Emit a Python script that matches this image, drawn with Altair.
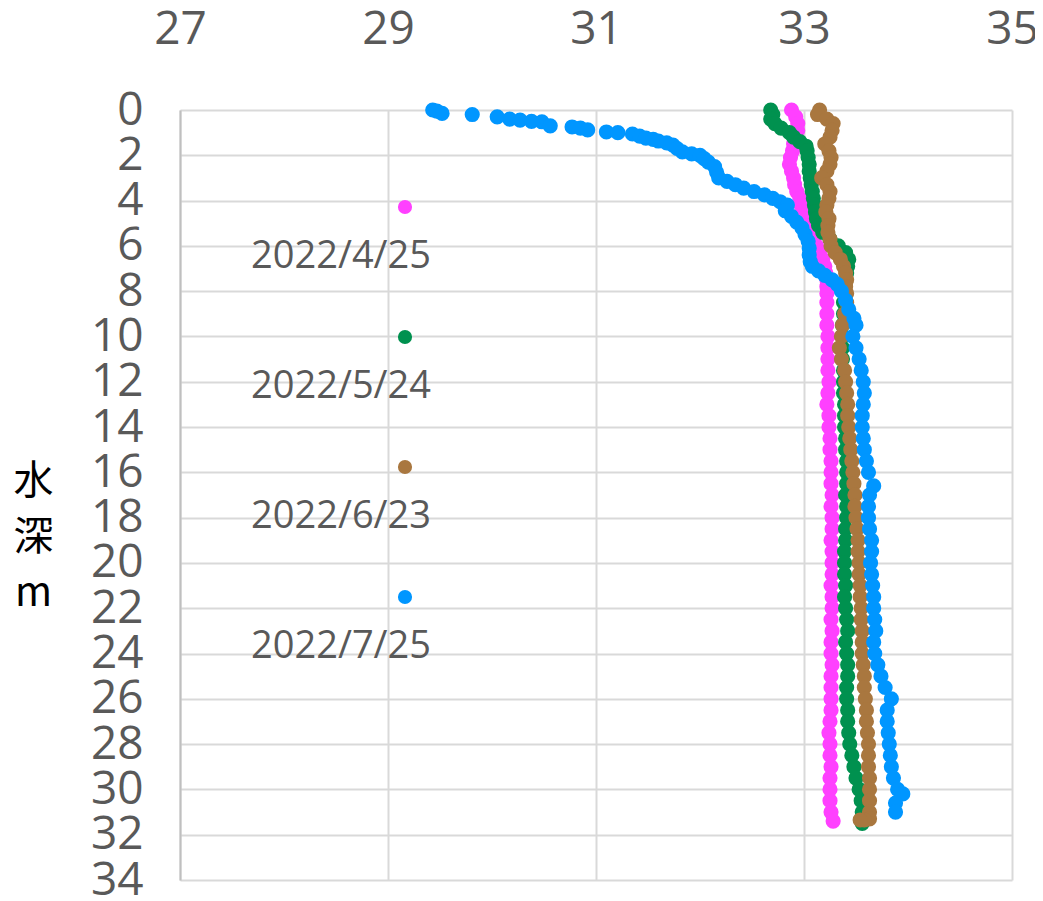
import altair as alt
import pandas as pd

SERIES = ["2022/4/25", "2022/5/24", "2022/6/23", "2022/7/25"]
COLORS = ["#FF40FF", "#00914F", "#A9773F", "#0096FF"]

X_TICKS = [27, 29, 31, 33, 35]
Y_TICKS = [0, 2, 4, 6, 8, 10, 12, 14, 16, 18, 20, 22, 24, 26, 28, 30, 32, 34]

# 2022/4/25 (pink)
apr_depth = [0.0, 0.3, 0.6, 0.9, 1.2, 1.5, 1.8, 2.1, 2.4, 2.7, 3.0, 3.3, 3.6, 3.9, 4.2, 4.5, 4.8,
             5.1, 5.4, 5.7, 6.0, 6.3, 6.6, 6.9, 7.2, 7.5, 7.8, 8.1, 8.5, 9.0, 9.5, 10.0, 10.5,
             11.0, 11.5, 12.0, 12.5, 13.0, 13.5, 14.0, 14.5, 15.0, 15.5, 16.0, 16.5, 17.0, 17.5,
             18.0, 18.5, 19.0, 19.5, 20.0, 20.5, 21.0, 21.5, 22.0, 22.5, 23.0, 23.5, 24.0, 24.5,
             25.0, 25.5, 26.0, 26.5, 27.0, 27.5, 28.0, 28.5, 29.0, 29.5, 30.0, 30.5, 31.0, 31.4]
apr_temp = [32.88, 32.92, 32.94, 32.94, 32.92, 32.90, 32.89, 32.87, 32.86, 32.88, 32.90, 32.91,
            32.93, 32.96, 32.97, 32.98, 32.99, 33.02, 33.06, 33.09, 33.12, 33.15, 33.18, 33.20,
            33.21, 33.22, 33.22, 33.22, 33.22, 33.22, 33.22, 33.23, 33.23, 33.23, 33.23, 33.24,
            33.23, 33.22, 33.24, 33.24, 33.25, 33.25, 33.26, 33.26, 33.26, 33.27, 33.26, 33.27,
            33.27, 33.26, 33.27, 33.27, 33.27, 33.26, 33.27, 33.27, 33.26, 33.27, 33.26, 33.26,
            33.27, 33.26, 33.26, 33.26, 33.26, 33.25, 33.24, 33.25, 33.25, 33.26, 33.25, 33.25,
            33.25, 33.26, 33.28]

# 2022/5/24 (green)
may_depth = [0.0, 0.2, 0.4, 0.6, 0.8, 1.0, 1.2, 1.4, 1.6, 1.8, 2.1, 2.4, 2.7, 3.0, 3.3, 3.6, 3.9,
             4.2, 4.5, 4.8, 5.1, 5.4, 5.7, 6.0, 6.3, 6.6, 6.9, 7.2, 7.6, 8.0, 8.5, 9.0, 9.5, 10.0,
             10.5, 11.0, 11.5, 12.0, 12.5, 13.0, 13.5, 14.0, 14.5, 15.0, 15.5, 16.0, 16.5, 17.0,
             17.5, 18.0, 18.5, 19.0, 19.5, 20.0, 20.5, 21.0, 21.5, 22.0, 22.5, 23.0, 23.5, 24.0,
             24.5, 25.0, 25.5, 26.0, 26.5, 27.0, 27.5, 28.0, 28.5, 29.0, 29.5, 30.0, 30.5, 31.0, 31.5]
may_temp = [32.68, 32.70, 32.68, 32.72, 32.78, 32.86, 32.90, 32.96, 33.02, 33.03, 33.04, 33.05,
            33.05, 33.06, 33.07, 33.08, 33.09, 33.10, 33.11, 33.12, 33.14, 33.18, 33.25, 33.33,
            33.40, 33.43, 33.42, 33.41, 33.40, 33.39, 33.38, 33.38, 33.37, 33.37, 33.37, 33.37,
            33.38, 33.38, 33.38, 33.39, 33.39, 33.39, 33.40, 33.40, 33.41, 33.41, 33.41, 33.40,
            33.41, 33.41, 33.40, 33.40, 33.39, 33.39, 33.39, 33.40, 33.39, 33.40, 33.41, 33.42,
            33.40, 33.41, 33.42, 33.42, 33.41, 33.41, 33.42, 33.42, 33.43, 33.44, 33.46, 33.48,
            33.50, 33.53, 33.55, 33.56, 33.56]

# 2022/6/23 (brown)
jun_depth = [0.0, 0.2, 0.4, 0.6, 0.9, 1.2, 1.5, 1.8, 2.1, 2.4, 2.7, 3.0, 3.3, 3.6, 3.9, 4.2, 4.5,
             4.8, 5.1, 5.4, 5.7, 6.0, 6.3, 6.6, 6.9, 7.2, 7.5, 7.8, 8.1, 8.5, 9.0, 9.5, 10.0, 10.5,
             11.0, 11.5, 12.0, 12.5, 13.0, 13.5, 14.0, 14.5, 15.0, 15.5, 16.0, 16.5, 17.0, 17.5,
             18.0, 18.5, 19.0, 19.5, 20.0, 20.5, 21.0, 21.5, 22.0, 22.5, 23.0, 23.5, 24.0, 24.5,
             25.0, 25.5, 26.0, 26.5, 27.0, 27.5, 28.0, 28.5, 29.0, 29.5, 30.0, 30.5, 31.0, 31.3,
             31.35, 31.35]
jun_temp = [33.15, 33.13, 33.22, 33.28, 33.27, 33.25, 33.20, 33.24, 33.26, 33.25, 33.22, 33.17,
            33.22, 33.25, 33.24, 33.22, 33.21, 33.24, 33.23, 33.23, 33.25, 33.26, 33.30, 33.35,
            33.38, 33.40, 33.41, 33.40, 33.41, 33.41, 33.39, 33.37, 33.36, 33.34, 33.36, 33.39,
            33.40, 33.41, 33.42, 33.42, 33.43, 33.44, 33.45, 33.46, 33.47, 33.48, 33.49, 33.49,
            33.50, 33.51, 33.52, 33.52, 33.53, 33.53, 33.54, 33.54, 33.55, 33.55, 33.56, 33.56,
            33.56, 33.57, 33.58, 33.58, 33.59, 33.60, 33.60, 33.61, 33.62, 33.62, 33.62, 33.63,
            33.63, 33.63, 33.63, 33.63, 33.58, 33.54]

# 2022/7/25 (blue)
jul_depth = [0.0, 0.05, 0.15, 0.2, 0.3, 0.4, 0.45, 0.5, 0.52, 0.7, 0.75, 0.8, 0.88, 0.97, 1.0,
             1.06, 1.15, 1.24, 1.3, 1.37, 1.45, 1.55, 1.7, 1.85, 1.94, 2.0, 2.15, 2.3, 2.5, 2.75,
             3.0, 3.15, 3.3, 3.45, 3.6, 3.75, 3.9, 4.05, 4.2, 4.45, 4.7, 4.95, 5.2, 5.5, 5.8, 6.1,
             6.4, 6.7, 6.9, 7.1, 7.3, 7.5, 7.7, 8.0, 8.4, 8.8, 9.2, 9.5, 10.0, 10.5, 11.0, 11.5,
             12.0, 12.5, 13.0, 13.5, 14.0, 14.5, 15.0, 15.5, 16.0, 16.6, 17.0, 17.5, 18.0, 18.5,
             19.0, 19.5, 20.0, 20.5, 21.0, 21.5, 22.0, 22.5, 23.0, 23.5, 24.0, 24.5, 25.0, 25.5,
             26.0, 26.5, 27.0, 27.5, 28.0, 28.5, 29.0, 29.5, 30.0, 30.2, 30.6, 31.0]
jul_temp = [29.43, 29.47, 29.52, 29.81, 30.05, 30.17, 30.27, 30.38, 30.48, 30.56, 30.77, 30.85,
            30.92, 31.10, 31.21, 31.35, 31.42, 31.48, 31.55, 31.60, 31.68, 31.74, 31.78, 31.83,
            31.92, 32.00, 32.04, 32.08, 32.14, 32.16, 32.18, 32.26, 32.34, 32.42, 32.52, 32.62,
            32.70, 32.77, 32.84, 32.82, 32.88, 32.93, 32.98, 33.01, 33.04, 33.05, 33.05, 33.06,
            33.08, 33.14, 33.20, 33.27, 33.32, 33.36, 33.40, 33.43, 33.48, 33.50, 33.47, 33.50,
            33.53, 33.55, 33.57, 33.58, 33.57, 33.56, 33.56, 33.57, 33.58, 33.60, 33.62, 33.67,
            33.63, 33.62, 33.62, 33.63, 33.65, 33.65, 33.64, 33.65, 33.66, 33.67, 33.67, 33.68,
            33.69, 33.67, 33.68, 33.71, 33.74, 33.78, 33.84, 33.80, 33.80, 33.81, 33.82, 33.83,
            33.84, 33.86, 33.90, 33.95, 33.88, 33.88]

frames = []
for name, d, t in [(SERIES[0], apr_depth, apr_temp), (SERIES[1], may_depth, may_temp),
                   (SERIES[2], jun_depth, jun_temp), (SERIES[3], jul_depth, jul_temp)]:
    frames.append(pd.DataFrame({"series": name, "depth": d, "temp": t}))
df = pd.concat(frames, ignore_index=True)
df["order"] = range(len(df))

LABEL_FONT = "Open Sans"

chart = alt.Chart(df).mark_point(filled=True, size=230, opacity=1, strokeWidth=0).encode(
    x=alt.X("temp:Q",
            scale=alt.Scale(domain=[27, 35], nice=False, zero=False),
            axis=alt.Axis(orient="top", values=X_TICKS, title=None, ticks=False, domain=False,
                          labelFontSize=46, labelColor="#595959", labelFont=LABEL_FONT,
                          labelPadding=57, labelOverlap=False, labelFlush=False,
                          gridColor="#D9D9D9", gridWidth=2)),
    y=alt.Y("depth:Q",
            scale=alt.Scale(domain=[0, 34], reverse=True, nice=False, zero=False),
            axis=alt.Axis(values=Y_TICKS, ticks=False, domain=True, domainColor="#BFBFBF",
                          domainWidth=2, labelFontSize=46, labelColor="#595959",
                          labelFont=LABEL_FONT, labelPadding=37, labelOverlap=False,
                          labelFlush=False, gridColor="#D9D9D9", gridWidth=2,
                          title=["水", "深", "m"], titleAngle=0, titleAlign="center",
                          titleBaseline="middle", titleFont="Noto Sans CJK JP",
                          titleFontSize=40, titleFontWeight="normal", titleColor="#000000",
                          titleLineHeight=56, titleX=-147, titleY=371)),
    color=alt.Color("series:N",
                    scale=alt.Scale(domain=SERIES, range=COLORS),
                    legend=alt.Legend(orient="none", legendX=55, legendY=78, title=None,
                                      symbolType="circle", symbolSize=200,
                                      symbolStrokeWidth=0, symbolOffset=151,
                                      labelFontSize=38,
                                      labelColor="#595959", labelFont=LABEL_FONT,
                                      labelBaseline="top", labelAlign="right",
                                      labelOffset=7, labelExpr="['', datum.label]",
                                      rowPadding=42, padding=0, labelLimit=400)),
    order=alt.Order("order:Q"),
).properties(
    width=832, height=770,
    autosize=alt.AutoSizeParams(type="none"),
    padding={"left": 172, "top": 102, "right": 23, "bottom": 40},
).configure(
    background="white",
    style={"guide-label": {"lineHeight": 31}},
).configure_view(strokeWidth=0)

chart.save("out.html", embed_options={"renderer": "svg", "actions": False})
